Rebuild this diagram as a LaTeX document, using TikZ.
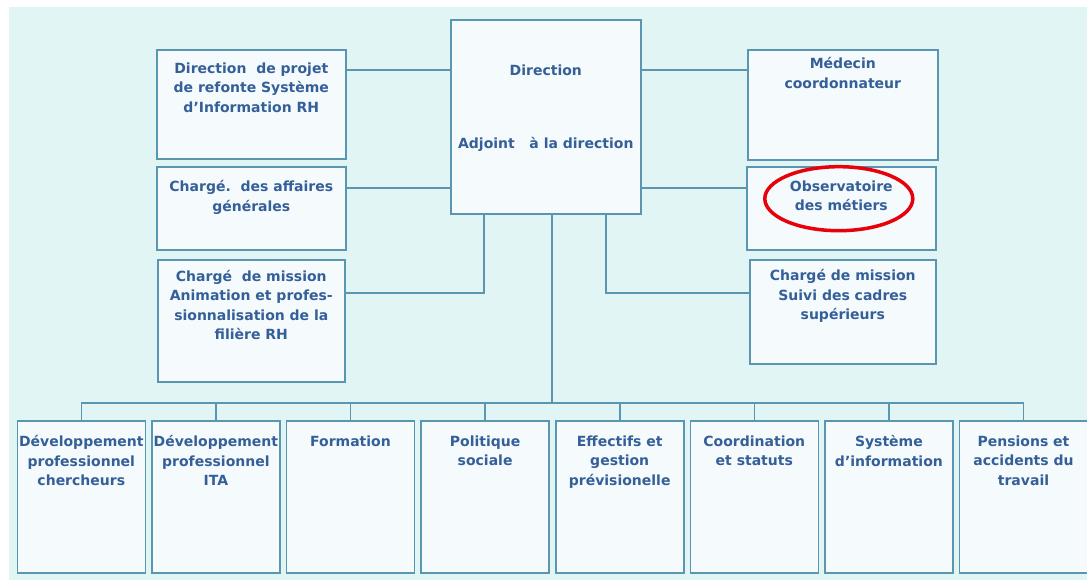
\documentclass[tikz,border=0pt]{standalone}
\usepackage{fontspec}
\setmainfont{DejaVu Sans}
\usetikzlibrary{positioning}

\definecolor{bgcyan}{RGB}{226,245,245}
\definecolor{boxfill}{RGB}{245,250,252}
\definecolor{rule}{RGB}{90,150,175}
\definecolor{ink}{RGB}{52,95,152}
\definecolor{ring}{RGB}{232,0,10}

\tikzset{
    unit/.style 2 args={draw=rule, line width=1.6pt, fill=boxfill,
        minimum width=#1, minimum height=#2, inner sep=0pt, anchor=north west},
    head/.style={anchor=north, yshift=-#1, align=center, text=ink, inner sep=0pt,
        font=\bfseries\fontsize{14}{19.5}\selectfont, execute at begin node=\strut},
    link/.style={draw=rule, line width=1.6pt},
}

\begin{document}
\begin{tikzpicture}[x=1pt, y=-1pt]
    \useasboundingbox (0,0) rectangle (1087,580);
    \fill[white] (0,0) rectangle (1087,580);
    \fill[bgcyan] (9,7) rectangle (1087,580);

    % Direction
    \node[unit={190pt}{194pt},
        label={[head=42.5pt]north:{Direction}},
        label={[head=115.5pt]north:{Adjoint\ \ \ à la direction}}] (dir) at (450,19) {};

    % Left column
    \node[unit={189pt}{109pt},
        label={[head=13.5pt]north:{Direction\ \ de projet\\de refonte Système\\d’Information RH}}] (projet) at (156,49) {};
    \node[unit={189pt}{83pt},
        label={[head=14.5pt]north:{Chargé.\ \ des affaires\\générales}}] (affaires) at (156,166) {};
    \node[unit={187pt}{122pt},
        label={[head=11pt]north:{Chargé\ \ de mission\\Animation et profes-\\sionnalisation de la\\filière RH}}] (animation) at (157,259) {};

    % Right column
    \node[unit={190pt}{110pt},
        label={[head=8.5pt]north:{Médecin\\coordonnateur}}] (medecin) at (747,49) {};
    \node[unit={189pt}{83pt},
        label={[head=14.5pt, name=obslbl]north:{Observatoire\\des métiers}}] (observatoire) at (746,166) {};
    \node[unit={186pt}{104pt},
        label={[head=10.5pt]north:{Chargé de mission\\Suivi des cadres\\supérieurs}}] (cadres) at (749,259) {};

    % Bottom row: services
    \node[unit={128pt}{152pt},
        label={[head=15.5pt]north:{Développement\\professionnel\\chercheurs}}] (u1) at (16.5,420) {};
    \node[unit={128pt}{152pt}, right=5pt of u1,
        label={[head=15.5pt]north:{Développement\\professionnel\\ITA}}] (u2) {};
    \node[unit={128pt}{152pt}, right=5pt of u2,
        label={[head=12.5pt]north:{Formation}}] (u3) {};
    \node[unit={128pt}{152pt}, right=5pt of u3,
        label={[head=15.5pt]north:{Politique\\sociale}}] (u4) {};
    \node[unit={128pt}{152pt}, right=5pt of u4,
        label={[head=15.5pt]north:{Effectifs et\\gestion\\prévisionelle}}] (u5) {};
    \node[unit={128pt}{152pt}, right=5pt of u5,
        label={[head=15.5pt]north:{Coordination\\et statuts}}] (u6) {};
    \node[unit={128pt}{152pt}, right=5pt of u6,
        label={[head=15.5pt]north:{Système\\d’information}}] (u7) {};
    \node[unit={128pt}{152pt}, right=5pt of u7,
        label={[head=15.5pt]north:{Pensions et\\accidents du\\travail}}] (u8) {};

    % Links to the direction
    \coordinate (l1) at ([yshift=-21pt]projet.north east);
    \coordinate (l2) at ([yshift=-22pt]affaires.north east);
    \coordinate (l3) at ([yshift=-34pt]animation.north east);
    \coordinate (r1) at ([yshift=-21pt]medecin.north west);
    \coordinate (r2) at ([yshift=-22pt]observatoire.north west);
    \coordinate (r3) at ([yshift=-34pt]cadres.north west);
    \draw[link] (l1) -- (l1 -| dir.west);
    \draw[link] (l2) -- (l2 -| dir.west);
    \draw[link] (l3) -| ([xshift=-62pt]dir.south);
    \draw[link] (r1) -- (r1 -| dir.east);
    \draw[link] (r2) -- (r2 -| dir.east);
    \draw[link] (r3) -| ([xshift=60pt]dir.south);

    % Bus to the services
    \coordinate (drop) at ([xshift=6pt]dir.south);
    \coordinate (bus) at (drop |- 0,403);
    \draw[link] (drop) -- (bus);
    \draw[link] (u1.north |- bus) -- (u8.north |- bus);
    \foreach \i in {1,...,8}
        \draw[link] (u\i.north) -- (u\i.north |- bus);

    % Mark
    \draw[ring, line width=3.5pt] ([xshift=-2.5pt]obslbl.center) ellipse [x radius=74pt, y radius=32pt];
\end{tikzpicture}
\end{document}
